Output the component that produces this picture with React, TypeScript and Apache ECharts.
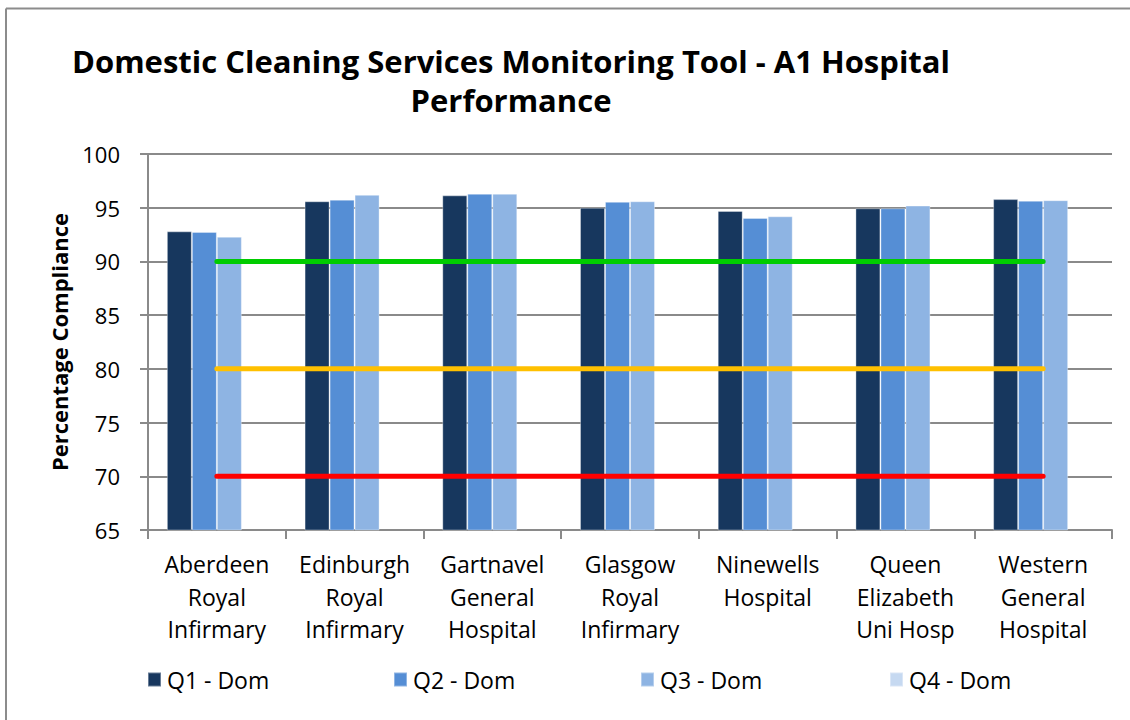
import React, { useEffect, useRef } from "react";
import * as echarts from "echarts";

const categories = [
  "Aberdeen\nRoyal\nInfirmary",
  "Edinburgh\nRoyal\nInfirmary",
  "Gartnavel\nGeneral\nHospital",
  "Glasgow\nRoyal\nInfirmary",
  "Ninewells\nHospital",
  "Queen\nElizabeth\nUni Hosp",
  "Western\nGeneral\nHospital",
];
const q1Dom = [92.8, 95.6, 96.15, 95.0, 94.7, 94.95, 95.8];
const q2Dom = [92.75, 95.75, 96.3, 95.55, 94.05, 94.95, 95.65];
const q3Dom = [92.3, 96.2, 96.3, 95.6, 94.2, 95.2, 95.7];
const q4Dom: (number | null)[] = [null, null, null, null, null, null, null];
const target90 = [90, 90, 90, 90, 90, 90, 90];
const target80 = [80, 80, 80, 80, 80, 80, 80];
const target70 = [70, 70, 70, 70, 70, 70, 70];
const seriesNames = ["Q1 - Dom", "Q2 - Dom", "Q3 - Dom", "Q4 - Dom"];
const titleLines = ["Domestic Cleaning Services Monitoring Tool - A1 Hospital", "Performance"];
const yAxisName = "Percentage Compliance";

const FONT = "'Open Sans', 'Noto Sans', sans-serif";

export default function App() {
  const ref = useRef<HTMLDivElement>(null);
  useEffect(() => {
    document.body.style.margin = "0";
    const chart = echarts.init(ref.current!, null, { renderer: "svg" });
    const colors = ["#17375e", "#558ed5", "#8eb4e3", "#c6d9f1"];
    const barData = [q1Dom, q2Dom, q3Dom, q4Dom];
    const legendLefts = [147, 393, 640, 889];
    const bars = seriesNames.map((n, i) => ({
      name: n,
      type: "bar",
      data: barData[i],
      barWidth: 25,
      barGap: "0%",
      itemStyle: { color: colors[i], borderColor: "rgba(255,255,255,0.35)", borderWidth: 1 },
      z: 2,
    }));
    const lineDefs = [
      { name: "Target 90", data: target90, color: "#00cc00" },
      { name: "Target 80", data: target80, color: "#ffc000" },
      { name: "Target 70", data: target70, color: "#ff0000" },
    ];
    const lines = lineDefs.map((l) => ({
      name: l.name,
      type: "line",
      data: l.data,
      symbol: "none",
      lineStyle: { color: l.color, width: 5, cap: "round" },
      itemStyle: { color: l.color },
      z: 5,
    }));
    chart.setOption({
      animation: false,
      backgroundColor: "#ffffff",
      textStyle: { fontFamily: FONT },
      graphic: [
        {
          type: "line",
          shape: { x1: 6, y1: 8.5, x2: 1130, y2: 8.5 },
          style: { stroke: "#8c8c8c", lineWidth: 2 },
        },
        {
          type: "line",
          shape: { x1: 6, y1: 8.5, x2: 6, y2: 720 },
          style: { stroke: "#8c8c8c", lineWidth: 2 },
        },
        {
          type: "text",
          x: 511,
          y: 61,
          style: {
            text: titleLines[0],
            font: `bold 31px ${FONT}`,
            fill: "#000000",
            textAlign: "center",
            textVerticalAlign: "middle",
          },
        },
        {
          type: "text",
          x: 511,
          y: 100,
          style: {
            text: titleLines[1],
            font: `bold 31px ${FONT}`,
            fill: "#000000",
            textAlign: "center",
            textVerticalAlign: "middle",
          },
        },
      ],
      legend: seriesNames.map((n, i) => ({
        data: [n],
        left: legendLefts[i],
        top: 668,
        itemWidth: 13,
        itemHeight: 14,
        itemGap: 0,
        icon: "rect",
        textStyle: { fontFamily: FONT, fontSize: 23, color: "#000000", padding: [0, 0, 0, 1] },
        padding: 0,
      })),
      grid: { left: 148, top: 154, width: 964, height: 376, containLabel: false },
      xAxis: {
        type: "category",
        data: categories,
        axisLine: { lineStyle: { color: "#8a8a8a", width: 2 } },
        axisTick: { show: true, length: 9, lineStyle: { color: "#8a8a8a", width: 2 } },
        axisLabel: {
          fontFamily: FONT,
          fontSize: 23,
          color: "#000000",
          lineHeight: 32.5,
          margin: 18,
          interval: 0,
        },
        splitLine: { show: false },
      },
      yAxis: {
        type: "value",
        min: 65,
        max: 100,
        interval: 5,
        name: yAxisName,
        nameLocation: "middle",
        nameGap: 78,
        nameTextStyle: { fontFamily: FONT, fontSize: 22, fontWeight: "bold", color: "#000000" },
        axisLine: { show: true, lineStyle: { color: "#8a8a8a", width: 2 } },
        axisTick: { show: true, length: 8, lineStyle: { color: "#8a8a8a", width: 2 } },
        axisLabel: { fontFamily: FONT, fontSize: 22, color: "#000000", margin: 28 },
        splitLine: { show: true, lineStyle: { color: "#8a8a8a", width: 2 } },
      },
      series: [...bars, ...lines],
    });
    return () => chart.dispose();
  }, []);
  return <div ref={ref} style={{ width: 1130, height: 720 }} />;
}
